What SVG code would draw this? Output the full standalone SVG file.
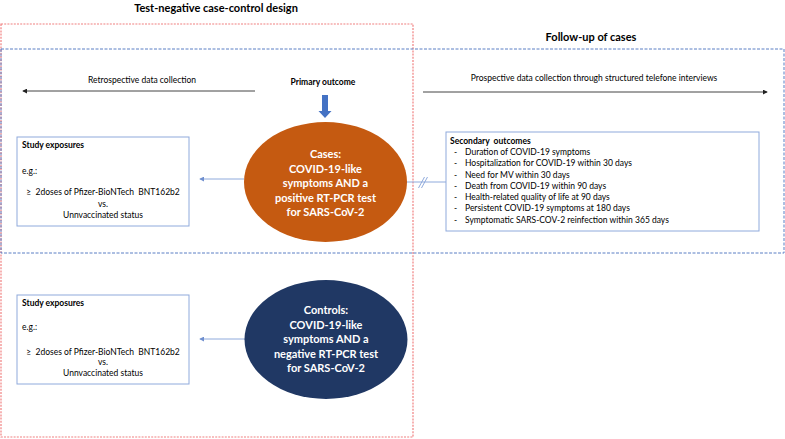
<svg xmlns="http://www.w3.org/2000/svg" width="785" height="439" viewBox="0 0 785 439">
<style>
text{font-family:Lato,"Liberation Sans",sans-serif;fill:#000;white-space:pre}
.t{font-size:11px;font-weight:bold}
.s{font-size:8.5px}
.b{font-weight:bold}
.w{fill:#fff;font-size:11px;font-weight:bold;text-anchor:middle}
.c{text-anchor:middle}
.box{fill:#fff;stroke:#8FAADC;stroke-width:1}
.con{stroke:#8FAADC;stroke-width:1;fill:none}
.tl{stroke:#444;stroke-width:1;fill:none}
</style>
<defs>
<marker id="ab" viewBox="0 0 6 6" refX="5" refY="3" markerWidth="5" markerHeight="5" orient="auto"><path d="M0,0L6,3L0,6z" fill="#6F8FCF"/></marker>
<marker id="ak" viewBox="0 0 6 6" refX="5" refY="3" markerWidth="5" markerHeight="5" orient="auto"><path d="M0,0L6,3L0,6z" fill="#222"/></marker>
</defs>
<rect width="785" height="439" fill="#fff"/>
<g id="frames">
<rect x="1" y="24" width="412" height="413" fill="none" stroke="#F08080" stroke-width="1.2" stroke-dasharray="2,1.2"/>
<rect x="1" y="49" width="783" height="204" fill="none" stroke="#5B7FC4" stroke-width="1" stroke-dasharray="3,1.5"/>
</g>
<g id="titles">
<text class="t c" x="216" y="12">Test-negative case-control design</text>
<text class="t c" x="591" y="41">Follow-up of cases</text>
</g>
<g id="timeline">
<text class="s c" x="142" y="83">Retrospective data collection</text>
<text class="s c" x="594" y="81">Prospective data collection through structured telefone interviews</text>
</g>
<g id="primary">
<text class="s b c" x="323" y="85">Primary outcome</text>
<polygon points="322,95 328,95 328,111 331.5,111 325,118 318.5,111 322,111" fill="#4472C4"/>
</g>
<g id="connectors">
<line class="tl" x1="255" y1="91" x2="23" y2="91" marker-end="url(#ak)"/>
<line class="tl" x1="423" y1="92" x2="767" y2="92" marker-end="url(#ak)"/>
<line class="con" x1="244" y1="179" x2="200" y2="179" marker-end="url(#ab)"/>
<line class="con" x1="245" y1="339" x2="200" y2="339" marker-end="url(#ab)"/>
<line class="con" x1="407" y1="182" x2="446" y2="182"/>
<line class="con" x1="418.5" y1="188" x2="424.5" y2="177"/>
<line class="con" x1="421.5" y1="188" x2="427.5" y2="177"/>
</g>
<g id="cases">
<ellipse cx="325.5" cy="182" rx="81.5" ry="60" fill="#C55A11"/>
<text class="w" x="325.5" y="158">Cases:</text>
<text class="w" x="325.5" y="172.5">COVID-19-like</text>
<text class="w" x="325.5" y="187">symptoms AND a</text>
<text class="w" x="325.5" y="201.5">positive RT-PCR test</text>
<text class="w" x="325.5" y="216">for SARS-CoV-2</text>
</g>
<g id="controls">
<ellipse cx="326" cy="339.5" rx="81.5" ry="59.5" fill="#203864"/>
<text class="w" x="326" y="314">Controls:</text>
<text class="w" x="326" y="328.5">COVID-19-like</text>
<text class="w" x="326" y="343">symptoms AND a</text>
<text class="w" x="326" y="357.5">negative RT-PCR test</text>
<text class="w" x="326" y="372">for SARS-CoV-2</text>
</g>
<g id="exposures1">
<rect class="box" x="17" y="137" width="172" height="89"/>
<text class="s b" x="22" y="148">Study exposures</text>
<text class="s" x="22" y="174">e.g.:</text>
<text class="s c" x="103" y="195">≥  2doses of Pfizer-BioNTech  BNT162b2</text>
<text class="s c" x="103" y="207">vs.</text>
<text class="s c" x="103" y="218">Unnvaccinated status</text>
</g>
<g id="exposures2">
<rect class="box" x="17" y="295" width="172" height="89"/>
<text class="s b" x="22" y="306">Study exposures</text>
<text class="s" x="22" y="330">e.g.:</text>
<text class="s c" x="103" y="355">≥  2doses of Pfizer-BioNTech  BNT162b2</text>
<text class="s c" x="103" y="365">vs.</text>
<text class="s c" x="103" y="376">Unnvaccinated status</text>
</g>
<g id="secondary">
<rect class="box" x="446" y="132" width="313" height="99"/>
<text class="s b" x="450" y="144">Secondary  outcomes</text>
<text class="s" x="454" y="155">-</text><text class="s" x="465" y="155">Duration of COVID-19 symptoms</text>
<text class="s" x="454" y="166">-</text><text class="s" x="465" y="166">Hospitalization for COVID-19 within 30 days</text>
<text class="s" x="454" y="177.5">-</text><text class="s" x="465" y="177.5">Need for MV within 30 days</text>
<text class="s" x="454" y="188.5">-</text><text class="s" x="465" y="188.5">Death from COVID-19 within 90 days</text>
<text class="s" x="454" y="200">-</text><text class="s" x="465" y="200">Health-related quality of life at 90 days</text>
<text class="s" x="454" y="211">-</text><text class="s" x="465" y="211">Persistent COVID-19 symptoms at 180 days</text>
<text class="s" x="454" y="222.5">-</text><text class="s" x="465" y="222.5">Symptomatic SARS-COV-2 reinfection within 365 days</text>
</g>
</svg>
